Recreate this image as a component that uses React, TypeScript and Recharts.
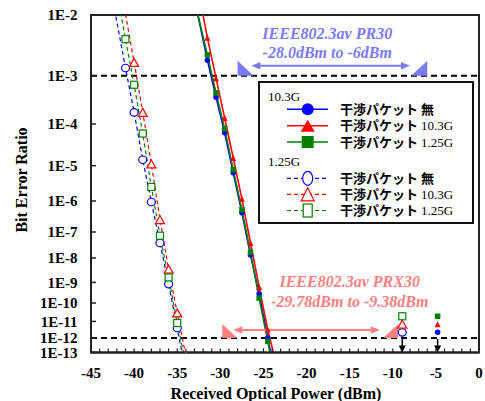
import React from "react";
import {
  ComposedChart,
  Line,
  XAxis,
  YAxis,
  ReferenceLine,
  ReferenceArea,
  Legend,
} from "recharts";

// BER paper: decades shown on the y axis and the spacing between their grid lines
const DECADES = [2, 3, 4, 5, 6, 7, 8, 9, 10, 11, 12, 13];
const DECADE_GAP = [60.7, 48.3, 41.7, 35.3, 31.0, 26.0, 24.4, 20.6, 18.4, 16.6, 14.4];

const X_MAJOR = [-45, -40, -35, -30, -25, -20, -15, -10, -5, 0];

// 10.3G signal (solid lines, filled markers)
const X_103_NONE = [-33.5, -31.5, -30.5, -29.5, -28.5, -27.5, -26.5, -25.5, -24.5, -23.5];
const BER_103_NONE = [4e-2, 1.8e-3, 3.6e-4, 6.2e-5, 6.3e-6, 4.2e-7, 1.3e-8, 2.8e-10, 1e-12, 1e-15];
const X_103_P103 = [-32.5, -31.5, -30.5, -29.5, -28.5, -27.5, -26.5, -25.5, -24.5, -23.5];
const BER_103_P103 = [2.4e-2, 4.2e-3, 8.9e-4, 1.33e-4, 1.53e-5, 1.15e-6, 3.8e-8, 6e-10, 3.2e-12, 1.4e-14];
const X_103_P125 = [-33.5, -31.5, -30.5, -29.5, -28.5, -27.5, -26.5, -25.5, -24.5, -23.5];
const BER_103_P125 = [3.5e-2, 2.2e-3, 4.4e-4, 7.7e-5, 7.7e-6, 5.2e-7, 1.65e-8, 1.75e-10, 5.8e-13, 6e-16];

// 1.25G signal (dashed lines, hollow markers)
const X_125_NONE = [-43, -41, -40, -39, -38, -37, -36, -35, -34];
const BER_125_NONE = [4.5e-2, 1.34e-3, 1.74e-4, 1.39e-5, 9.3e-7, 3.8e-8, 8.3e-10, 4e-12, 4e-15];
const X_125_P103 = [-42, -40, -39, -38, -37, -36, -35, -34];
const BER_125_P103 = [6.5e-2, 1.66e-3, 1.74e-4, 1.1e-5, 2.5e-7, 3.5e-9, 2.9e-11, 6e-14];
const X_125_P125 = [-42, -41, -40, -39, -38, -37, -36, -35, -34];
const BER_125_P125 = [2.4e-2, 4e-3, 6.5e-4, 5.9e-5, 2.5e-6, 7.2e-8, 1.6e-9, 8e-12, 1.6e-14];

// error free at high power (no errors, plotted just above 1E-12): 無, 10.3G, 1.25G
const FLOOR_X_125 = -8.9;
const FLOOR_X_103 = -4.8;
const FLOOR_BER = [2.2e-12, 6.8e-12, 1.9e-11];

const NAMES = ["干渉パケット 無", "干渉パケット 10.3G", "干渉パケット 1.25G"];
const COLORS = ["#0000ff", "#ff0000", "#008000"];
const SHAPES = ["circle", "triangle", "square"];

const PR30 = {
  from: -28.0, to: -6, arrowFrom: -26.4, arrowTo: -8.0, labelAt: -17.6, base: 1e-3,
  lines: ["IEEE802.3av PR30", "-28.0dBm to -6dBm"],
  color: "#7b7bf5", triH: 15, triW: 16, arrowRise: 10, textRise: [37, 18],
};
const PRX30 = {
  from: -29.78, to: -9.38, arrowFrom: -28.5, arrowTo: -11.5, labelAt: -15, base: 1e-12,
  lines: ["IEEE802.3av PRX30", "-29.78dBm to -9.38dBm"],
  color: "#ff8080", triH: 14, triW: 15, arrowRise: 8, textRise: [51, 31],
};

const DECADE_POS = DECADE_GAP.reduce((acc, g) => [...acc, acc[acc.length - 1] + g], [0]);
const Y_SPAN = DECADE_POS[DECADE_POS.length - 1];

function berPos(ber: number) {
  const e = -Math.log10(ber);
  const k = Math.min(Math.max(Math.floor(e) - 2, 0), DECADE_GAP.length - 1);
  return DECADE_POS[k] + (e - 2 - k) * DECADE_GAP[k];
}
const Y_TICKS = DECADES.map((d) => berPos(Math.pow(10, -d)));
const X_MINOR = Array.from({ length: 46 }, (_, i) => i - 45);

const SERIF = "Liberation Serif";
const CJK = "Noto Sans CJK JP";

const rows = (xs: number[], bers: number[]) => xs.map((x, i) => ({ x, ber: bers[i] }));
const yVal = (d: any) => (d.ber == null ? null : berPos(d.ber));

function Marker({ cx, cy, shape, color, filled, w, h }: any) {
  if (cx == null || cy == null || isNaN(cx) || isNaN(cy)) return null;
  const fill = filled ? color : "#fff";
  const sw = filled ? 0 : 1.2;
  if (shape === "circle")
    return <ellipse cx={cx} cy={cy} rx={w / 2} ry={h / 2} fill={fill} stroke={color} strokeWidth={sw} />;
  if (shape === "triangle")
    return (
      <polygon
        points={`${cx},${cy - h / 2} ${cx + w / 2},${cy + h / 2} ${cx - w / 2},${cy + h / 2}`}
        fill={fill}
        stroke={color}
        strokeWidth={sw}
      />
    );
  return <rect x={cx - w / 2} y={cy - h / 2} width={w} height={h} fill={fill} stroke={color} strokeWidth={sw} />;
}

const PLOT_SIZE: any = {
  filled: { circle: [5.5, 5.5], triangle: [6, 6], square: [5.5, 5.5] },
  hollow: { circle: [8, 7.5], triangle: [9, 8], square: [7, 7] },
};
const LEGEND_SIZE: any = {
  filled: { circle: [12, 12], triangle: [14, 12], square: [12, 12] },
  hollow: { circle: [10, 14], triangle: [13, 13], square: [9, 13] },
};

const SERIES = [
  { id: "125-0", filled: false, dash: "4 3", width: 1.2, data: rows(X_125_NONE, BER_125_NONE), floorX: FLOOR_X_125, i: 0 },
  { id: "125-1", filled: false, dash: "4 3", width: 1.2, data: rows(X_125_P103, BER_125_P103), floorX: FLOOR_X_125, i: 1 },
  { id: "125-2", filled: false, dash: "4 3", width: 1.2, data: rows(X_125_P125, BER_125_P125), floorX: FLOOR_X_125, i: 2 },
  { id: "103-0", filled: true, dash: undefined, width: 1.6, data: rows(X_103_NONE, BER_103_NONE), floorX: FLOOR_X_103, i: 0 },
  { id: "103-1", filled: true, dash: undefined, width: 1.6, data: rows(X_103_P103, BER_103_P103), floorX: FLOOR_X_103, i: 1 },
  { id: "103-2", filled: true, dash: undefined, width: 1.6, data: rows(X_103_P125, BER_103_P125), floorX: FLOOR_X_103, i: 2 },
];

function dotFor(s: any) {
  const shape = SHAPES[s.i];
  const [w, h] = PLOT_SIZE[s.filled ? "filled" : "hollow"][shape];
  return (p: any) => (
    <Marker key={`${s.id}-${p.index}`} cx={p.cx} cy={p.cy} shape={shape} color={COLORS[s.i]} filled={s.filled} w={w} h={h} />
  );
}

function specShape(a: any) {
  return (p: any) => {
    const { x1, x2, y1 } = p;
    const k = (x2 - x1) / (a.to - a.from);
    const px = (v: number) => x1 + (v - a.from) * k;
    const ay = y1 - a.arrowRise;
    const ax1 = px(a.arrowFrom);
    const ax2 = px(a.arrowTo);
    const hl = 9;
    const hw = 3.8;
    return (
      <g>
        <polygon points={`${x1},${y1 - a.triH} ${x1},${y1} ${x1 + a.triW},${y1}`} fill={a.color} />
        <polygon points={`${x2},${y1 - a.triH} ${x2},${y1} ${x2 - a.triW},${y1}`} fill={a.color} />
        <line x1={ax1 + hl - 1} y1={ay} x2={ax2 - hl + 1} y2={ay} stroke={a.color} strokeWidth={2} />
        <polygon points={`${ax1},${ay} ${ax1 + hl},${ay - hw} ${ax1 + hl},${ay + hw}`} fill={a.color} />
        <polygon points={`${ax2},${ay} ${ax2 - hl},${ay - hw} ${ax2 - hl},${ay + hw}`} fill={a.color} />
        {a.lines.map((t: string, i: number) => (
          <text
            key={i}
            x={px(a.labelAt)}
            y={y1 - a.textRise[i]}
            textAnchor="middle"
            fill={a.color}
            fontFamily={SERIF}
            fontWeight="bold"
            fontStyle="italic"
            fontSize={16}
          >
            {t}
          </text>
        ))}
      </g>
    );
  };
}

const floorArrow = (p: any) => (
  <g>
    <line x1={p.x1} y1={p.y1 + 1} x2={p.x2} y2={p.y2 - 6} stroke="#000" strokeWidth={1.5} />
    <polygon points={`${p.x2},${p.y2} ${p.x2 - 3.5},${p.y2 - 7} ${p.x2 + 3.5},${p.y2 - 7}`} fill="#000" />
  </g>
);

function LegendBox() {
  const groups = [
    { title: "10.3G", filled: true, dash: undefined, width: 1.6, top: 20, rowY: [28.3, 44.7, 61] },
    { title: "1.25G", filled: false, dash: "4 3", width: 1.2, top: 85, rowY: [97.3, 113.3, 129.5] },
  ];
  return (
    <svg width={216} height={144} style={{ display: "block" }}>
      <rect x={1} y={1} width={214} height={141} fill="#fff" stroke="#111" strokeWidth={2} />
      {groups.map((g) => (
        <g key={g.title}>
          <text x={10} y={g.top} fontFamily={SERIF} fontSize={13} fill="#000">
            {g.title}
          </text>
          {g.rowY.map((y, i) => {
            const shape = SHAPES[i];
            const [w, h] = LEGEND_SIZE[g.filled ? "filled" : "hollow"][shape];
            const [jp, rest] = NAMES[i].split(" ");
            return (
              <g key={i}>
                <line x1={29} y1={y} x2={70} y2={y} stroke={COLORS[i]} strokeWidth={g.width} strokeDasharray={g.dash} />
                <Marker cx={49.7} cy={y} shape={shape} color={COLORS[i]} filled={g.filled} w={w} h={h} />
                <text x={82} y={y + 4.5} fontSize={13} fill="#000">
                  <tspan fontFamily={CJK} fontWeight="bold">{jp}</tspan>
                  <tspan fontFamily={rest === "無" ? CJK : SERIF} fontWeight={rest === "無" ? "bold" : "normal"} dx={3}>
                    {rest}
                  </tspan>
                </text>
              </g>
            );
          })}
        </g>
      ))}
    </svg>
  );
}

const tickStyle = { fill: "#000", fontSize: 15, fontWeight: "bold", fontFamily: SERIF };

export default function App() {
  return (
    <div style={{ position: "absolute", left: 0, top: 0, width: 485, height: 401 }}>
      <ComposedChart width={485} height={401} margin={{ top: 15, right: 6, left: 21, bottom: 18.6 }}>
        <XAxis
          type="number"
          dataKey="x"
          domain={[-45, 0]}
          ticks={X_MINOR}
          interval={0}
          tickFormatter={(v: number) => (X_MAJOR.includes(v) ? String(v) : "")}
          tick={tickStyle}
          tickSize={-4}
          tickMargin={19}
          tickLine={{ stroke: "#222", strokeWidth: 1.2 }}
          axisLine={{ stroke: "#222", strokeWidth: 2 }}
          height={30}
          label={() => (
            <text x={276} y={399} textAnchor="middle" fontFamily={SERIF} fontWeight="bold" fontSize={16} fill="#000">
              Received Optical Power (dBm)
            </text>
          )}
        />
        <YAxis
          type="number"
          domain={[0, Y_SPAN]}
          reversed
          allowDataOverflow
          ticks={Y_TICKS}
          interval={0}
          tickFormatter={(v: number) => {
            const i = Y_TICKS.findIndex((t) => Math.abs(t - v) < 0.01);
            return i >= 0 ? `1E-${DECADES[i]}` : "";
          }}
          tick={tickStyle}
          tickSize={-5}
          tickMargin={18.5}
          tickLine={{ stroke: "#222", strokeWidth: 1.5 }}
          axisLine={{ stroke: "#222", strokeWidth: 2 }}
          width={70}
          label={() => (
            <text
              x={21}
              y={180}
              transform="rotate(-90 21 180)"
              textAnchor="middle"
              dominantBaseline="central"
              fontFamily={SERIF}
              fontWeight="bold"
              fontSize={16}
              fill="#000"
            >
              Bit Error Ratio
            </text>
          )}
        />
        <ReferenceArea x1={-45} x2={0} y1={0} y2={Y_SPAN} fill="none" stroke="#222" strokeWidth={2} />
        <ReferenceLine y={berPos(1e-3)} stroke="#000" strokeWidth={2} strokeDasharray="6 4" />
        <ReferenceLine y={berPos(1e-12)} stroke="#000" strokeWidth={2} strokeDasharray="6 4" />
        {SERIES.map((s) => (
          <Line
            key={s.id}
            data={s.data}
            dataKey={yVal}
            type="linear"
            stroke={COLORS[s.i]}
            strokeWidth={s.width}
            strokeDasharray={s.dash}
            dot={dotFor(s)}
            activeDot={false}
            legendType="none"
            isAnimationActive={false}
          />
        ))}
        {SERIES.map((s) => (
          <Line
            key={`floor-${s.id}`}
            data={[{ x: s.floorX, ber: FLOOR_BER[s.i] }]}
            dataKey={yVal}
            stroke="none"
            dot={dotFor(s)}
            activeDot={false}
            legendType="none"
            isAnimationActive={false}
          />
        ))}
        {[FLOOR_X_125, FLOOR_X_103].map((x) => (
          <ReferenceLine
            key={`arrow-${x}`}
            segment={[
              { x, y: berPos(1e-12) },
              { x, y: Y_SPAN },
            ]}
            shape={floorArrow}
          />
        ))}
        {[PR30, PRX30].map((a) => (
          <ReferenceLine
            key={a.lines[0]}
            segment={[
              { x: a.from, y: berPos(a.base) },
              { x: a.to, y: berPos(a.base) },
            ]}
            shape={specShape(a)}
          />
        ))}
        <Legend
          verticalAlign="middle"
          align="center"
          layout="horizontal"
          content={() => <LegendBox />}
          wrapperStyle={{ left: 258, top: 81, width: 216, height: 144 }}
        />
      </ComposedChart>
    </div>
  );
}
